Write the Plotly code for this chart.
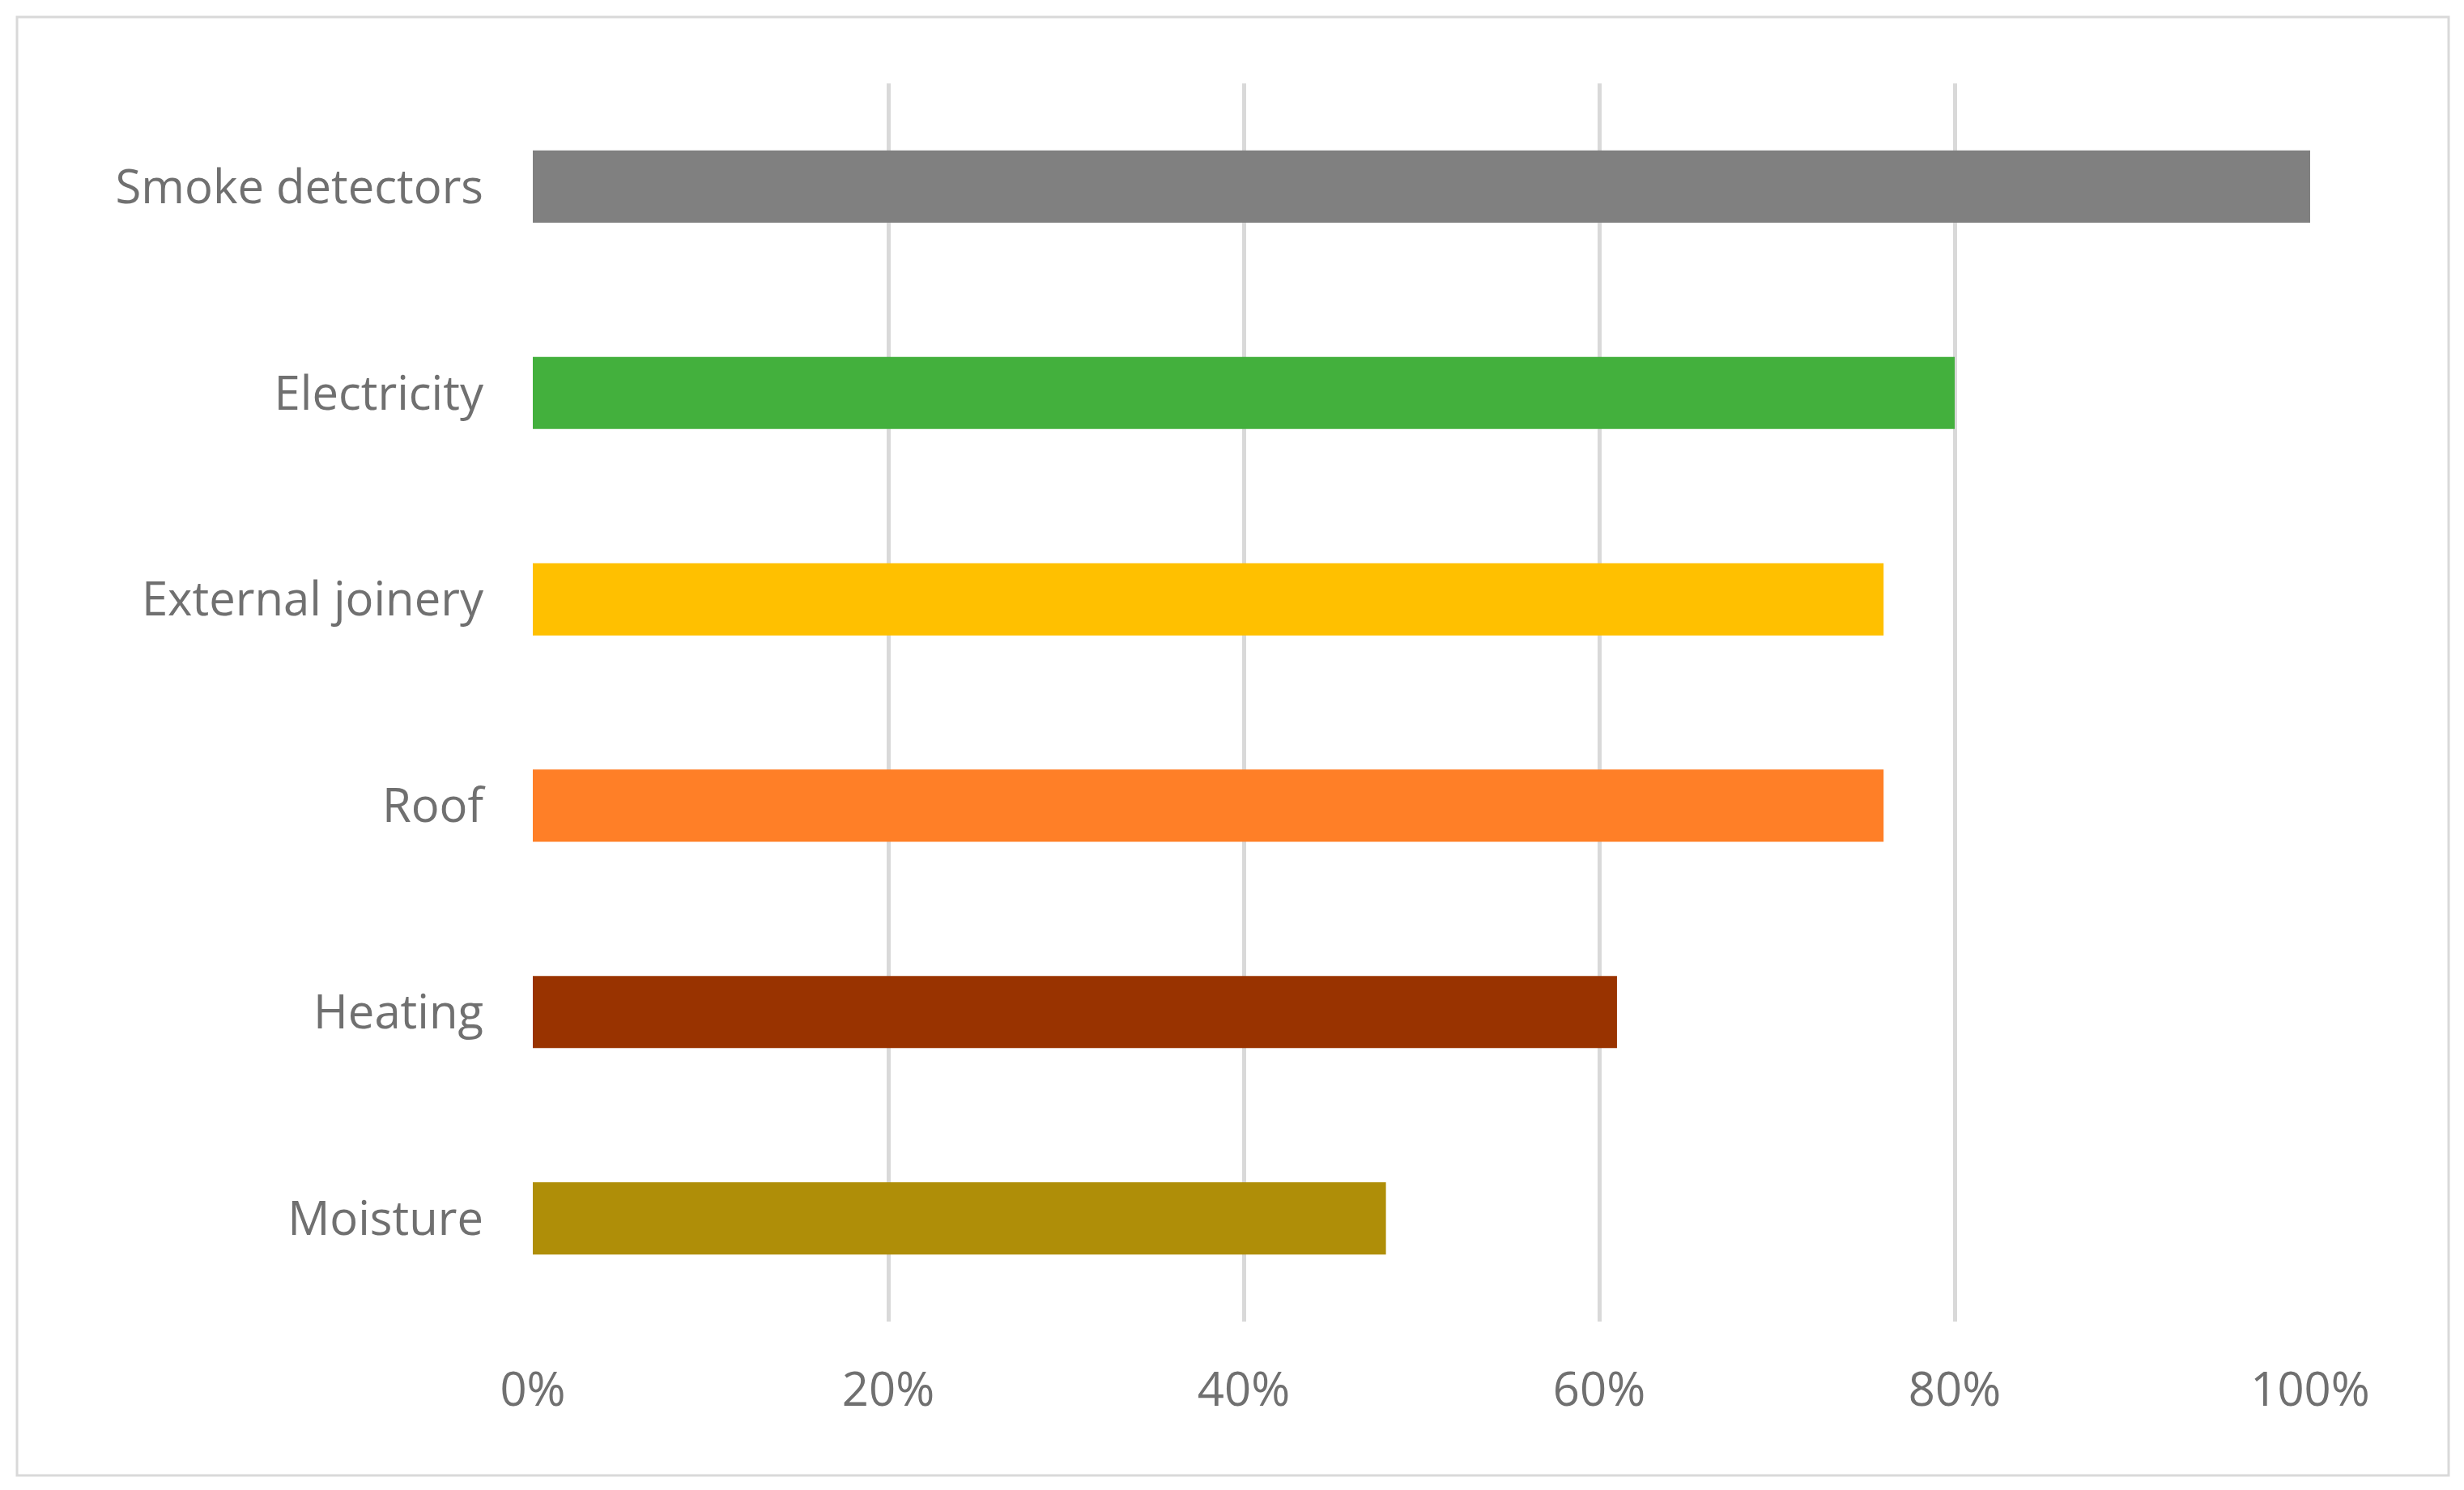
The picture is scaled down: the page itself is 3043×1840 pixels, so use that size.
import plotly.graph_objects as go

categories = ["Moisture", "Heating", "Roof", "External joinery", "Electricity", "Smoke detectors"]
values = [0.48, 0.61, 0.76, 0.76, 0.80, 1.00]
colors = ["#AF8E08", "#993300", "#FF7F27", "#FFC000", "#43B03D", "#808080"]
tick_vals = [0, 0.2, 0.4, 0.6, 0.8, 1.0]
tick_text = ["0%", "20%", "40%", "60%", "80%", "100%"]

W, H = 3043, 1840
L, R, T, B = 656, 192, 101, 210
pw, ph = W - L - R, H - T - B

fig = go.Figure(go.Bar(y=categories, x=values, orientation="h",
                       marker=dict(color=colors, line=dict(width=0)), width=0.35))

def px(x): return (x - L) / pw
def py(y): return 1 - (y - T) / ph

fig.add_shape(type="rect", xref="paper", yref="paper",
              x0=px(19), x1=px(3022), y0=py(19), y1=py(1820),
              line=dict(color="#D9D9D9", width=3), layer="below")

fig.update_layout(
    width=W, height=H, margin=dict(l=L - 6, r=R + 6, t=T - 6, b=B + 6),
    paper_bgcolor="white", plot_bgcolor="white", showlegend=False,
    font=dict(family="Open Sans, sans-serif", size=58, color="#707070"),
    bargap=0.65,
    xaxis=dict(range=[0, 1.0], tickvals=tick_vals, ticktext=tick_text,
               showgrid=True, gridcolor="#D9D9D9", gridwidth=5,
               zeroline=False, showline=False, ticks="", ticklabelstandoff=45,
               fixedrange=True),
    yaxis=dict(showgrid=False, zeroline=False, showline=False, ticks="",
               ticklabelstandoff=60, range=[-0.5, 5.5]),
)
fig.write_html("out.html")
